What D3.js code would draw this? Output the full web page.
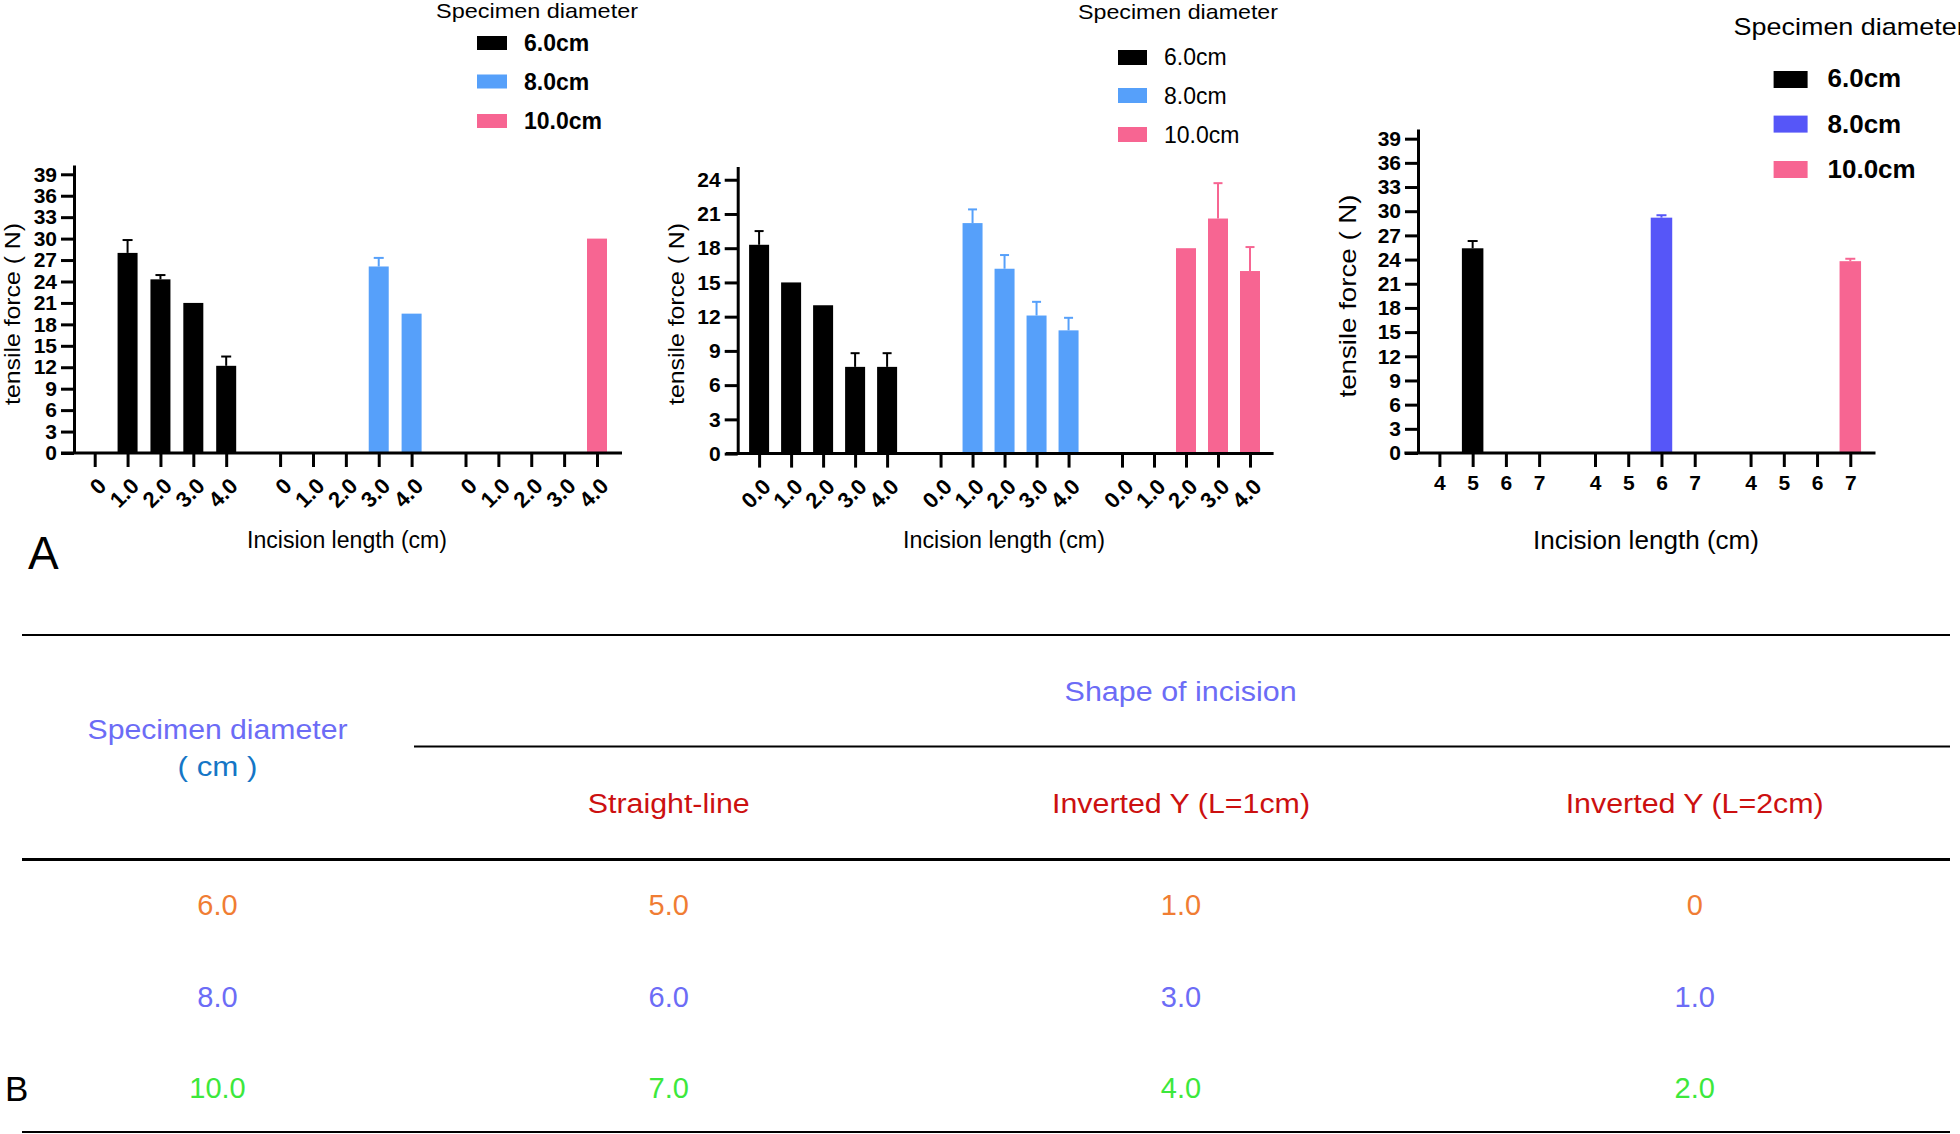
<!DOCTYPE html>
<html>
<head>
<meta charset="utf-8">
<script src="https://cdn.jsdelivr.net/npm/d3@7"></script>
<style>
  html, body { margin: 0; padding: 0; background: #fff; }
  svg { display: block; }
  text { font-family: "Liberation Sans", Arial, "Noto Sans CJK SC", sans-serif; }
</style>
</head>
<body>
<svg id="chart" width="1960" height="1134"></svg>
<script>
// ---------------- DATA ----------------
const seriesNames = ["6.0cm", "8.0cm", "10.0cm"];
const legendTitle = "Specimen diameter";
const yTitle = "tensile force ( N)";
const xTitle = "Incision length (cm)";

// Panel 1 (straight-line)
const p1Categories = ["0", "1.0", "2.0", "3.0", "4.0"];
const p1Mean6 = [0, 28.0, 24.3, 21.0, 12.2];
const p1Err6 = [0, 1.8, 0.6, 0, 1.3];
const p1Mean8 = [0, 0, 0, 26.1, 19.5];
const p1Err8 = [0, 0, 0, 1.2, 0];
const p1Mean10 = [0, 0, 0, 0, 30.0];
const p1Err10 = [0, 0, 0, 0, 0];
const p1YTicks = [0, 3, 6, 9, 12, 15, 18, 21, 24, 27, 30, 33, 36, 39];

// Panel 2 (inverted Y)
const p2Categories = ["0.0", "1.0", "2.0", "3.0", "4.0"];
const p2Mean6 = [18.3, 15.0, 13.0, 7.6, 7.6];
const p2Err6 = [1.2, 0, 0, 1.2, 1.2];
const p2Mean8 = [0, 20.2, 16.2, 12.1, 10.8];
const p2Err8 = [0, 1.2, 1.2, 1.2, 1.1];
const p2Mean10 = [0, 0, 18.0, 20.6, 16.0];
const p2Err10 = [0, 0, 0, 3.1, 2.1];
const p2YTicks = [0, 3, 6, 9, 12, 15, 18, 21, 24];

// Panel 3
const p3Categories = ["4", "5", "6", "7"];
const p3Mean6 = [0, 25.4, 0, 0];
const p3Err6 = [0, 0.9, 0, 0];
const p3Mean8 = [0, 0, 29.2, 0];
const p3Err8 = [0, 0, 0.3, 0];
const p3Mean10 = [0, 0, 0, 23.8];
const p3Err10 = [0, 0, 0, 0.3];
const p3YTicks = [0, 3, 6, 9, 12, 15, 18, 21, 24, 27, 30, 33, 36, 39];

// Table (B)
const tableRowHeader = "Specimen diameter";
const tableRowUnit = "( cm )";
const tableGroupHeader = "Shape of incision";
const tableColumns = ["Straight-line", "Inverted Y (L=1cm)", "Inverted Y (L=2cm)"];
const tableDiameters = ["6.0", "8.0", "10.0"];
const tableStraight = ["5.0", "6.0", "7.0"];
const tableInvY1 = ["1.0", "3.0", "4.0"];
const tableInvY2 = ["0", "1.0", "2.0"];

// ---------------- STYLE ----------------
const colBlack = "#000000";
const colBlue = "#56A0FA";
const colIndigo = "#5656F8";
const colPink = "#F76592";
const tblLavender = "#6C6CF6";
const tblUnit = "#1576C6";
const tblRed = "#CC1010";
const tblRowColors = ["#F07D33", "#6C6CF6", "#3CE83C"];

const svg = d3.select("#chart");

function drawPanel(cfg) {
  const g = svg.append("g");
  const y = d3.scaleLinear().domain([0, cfg.yMax]).range([cfg.zeroY, cfg.topY]);
  const nGroups = cfg.series.length;
  const x = d3.scaleLinear()
    .domain([0, (nGroups - 1) * (cfg.n + cfg.gap) + cfg.n - 1])
    .range([cfg.firstTick, cfg.lastTick]);

  // bars
  const bars = [];
  cfg.series.forEach((s, gi) => {
    s.mean.forEach((m, i) => {
      bars.push({ pos: gi * (cfg.n + cfg.gap) + i, mean: m, err: s.err[i], color: s.color, label: cfg.categories[i] });
    });
  });
  const tickPositions = bars.map(b => b.pos);
  const tickLabels = bars.map(b => b.label);

  g.selectAll("rect.bar").data(bars.filter(b => b.mean > 0)).join("rect")
    .attr("class", "bar")
    .attr("x", d => x(d.pos) - cfg.barW / 2)
    .attr("y", d => y(d.mean))
    .attr("width", cfg.barW)
    .attr("height", d => y(0) - y(d.mean))
    .attr("fill", d => d.color);

  // error bars (upper only)
  const eb = bars.filter(b => b.mean > 0 && b.err > 0);
  g.selectAll("line.errv").data(eb).join("line")
    .attr("x1", d => x(d.pos)).attr("x2", d => x(d.pos))
    .attr("y1", d => y(d.mean)).attr("y2", d => y(d.mean + d.err))
    .attr("stroke", d => d.color).attr("stroke-width", 2);
  g.selectAll("line.errc").data(eb).join("line")
    .attr("x1", d => x(d.pos) - cfg.capW / 2).attr("x2", d => x(d.pos) + cfg.capW / 2)
    .attr("y1", d => y(d.mean + d.err)).attr("y2", d => y(d.mean + d.err))
    .attr("stroke", d => d.color).attr("stroke-width", 2);

  // y axis
  const yAxis = d3.axisLeft(y).tickValues(cfg.yTicks).tickSize(13).tickSizeOuter(0).tickPadding(4);
  const ya = g.append("g").attr("transform", `translate(${cfg.axisX},0)`).call(yAxis);
  ya.select(".domain").attr("stroke", "#000").attr("stroke-width", 3);
  ya.selectAll(".tick line").attr("stroke", "#000").attr("stroke-width", 3);
  ya.selectAll(".tick text").attr("fill", "#000")
    .style("font-size", cfg.yTickSize + "px").style("font-weight", "bold")
    .style("font-family", '"Liberation Sans", Arial, sans-serif');

  // x axis
  const xAxis = d3.axisBottom(x).tickValues(tickPositions).tickSize(14).tickSizeOuter(0)
    .tickFormat((d, i) => tickLabels[i]);
  const xa = g.append("g").attr("transform", `translate(0,${cfg.zeroY})`).call(xAxis);
  xa.select(".domain").remove();
  xa.selectAll(".tick line").attr("stroke", "#000").attr("stroke-width", 3);
  const xt = xa.selectAll(".tick text").attr("fill", "#000")
    .style("font-size", cfg.xTickSize + "px").style("font-weight", "bold")
    .style("font-family", '"Liberation Sans", Arial, sans-serif');
  if (cfg.rotate) {
    xt.attr("text-anchor", "end").attr("dy", "0.35em")
      .attr("transform", "translate(7,29) rotate(-45)").attr("y", 0).attr("x", 0);
  } else {
    xt.attr("y", 22).attr("dy", "0.71em");
  }
  g.append("line")
    .attr("x1", cfg.xLine[0]).attr("x2", cfg.xLine[1])
    .attr("y1", cfg.zeroY).attr("y2", cfg.zeroY)
    .attr("stroke", "#000").attr("stroke-width", 3);

  // axis titles
  g.append("text")
    .attr("transform", `translate(${cfg.yTitle.x},${cfg.yTitle.y}) rotate(-90)`)
    .attr("text-anchor", "middle").attr("dy", "0.35em")
    .attr("textLength", cfg.yTitle.len).attr("lengthAdjust", "spacingAndGlyphs")
    .style("font-size", cfg.yTitle.size + "px")
    .text(yTitle);
  g.append("text")
    .attr("x", cfg.xTitle.x).attr("y", cfg.xTitle.y)
    .attr("text-anchor", "middle")
    .attr("textLength", cfg.xTitle.len).attr("lengthAdjust", "spacingAndGlyphs")
    .style("font-size", cfg.xTitle.size + "px")
    .text(xTitle);

  // legend
  const L = cfg.legend;
  g.append("text").attr("x", L.titleX).attr("y", L.titleY)
    .attr("textLength", L.titleLen).attr("lengthAdjust", "spacingAndGlyphs")
    .style("font-size", L.titleSize + "px").text(legendTitle);
  const items = g.selectAll("g.leg").data(cfg.series).join("g").attr("class", "leg");
  items.append("rect")
    .attr("x", L.swX).attr("y", (d, i) => L.swY[i])
    .attr("width", L.swW).attr("height", L.swH)
    .attr("fill", d => d.color);
  items.append("text")
    .attr("x", L.labX).attr("y", (d, i) => L.labY[i])
    .style("font-size", L.labSize + "px")
    .style("font-weight", L.bold ? "bold" : "normal")
    .text((d, i) => seriesNames[i]);
}

drawPanel({
  axisX: 74, zeroY: 453, topY: 165, yMax: 40.3, yTicks: p1YTicks,
  firstTick: 94.7, lastTick: 597, n: 5, gap: 0.64, xLine: [61, 622],
  barW: 20, capW: 10, rotate: true, yTickSize: 21, xTickSize: 22,
  categories: p1Categories,
  series: [
    { mean: p1Mean6, err: p1Err6, color: colBlack },
    { mean: p1Mean8, err: p1Err8, color: colBlue },
    { mean: p1Mean10, err: p1Err10, color: colPink }
  ],
  yTitle: { x: 12.5, y: 314, len: 182, size: 22 },
  xTitle: { x: 347, y: 548, len: 200, size: 23 },
  legend: { titleX: 436, titleY: 18, titleLen: 202, titleSize: 21,
    swX: 477, swW: 30, swH: 14, swY: [36, 74.5, 114],
    labX: 524, labY: [51, 90, 129], labSize: 23, bold: true }
});

drawPanel({
  axisX: 737.7, zeroY: 453.6, topY: 166.5, yMax: 25.16, yTicks: p2YTicks,
  firstTick: 759.1, lastTick: 1250, n: 5, gap: 0.67, xLine: [726, 1273.6],
  barW: 20, capW: 9, rotate: true, yTickSize: 21, xTickSize: 22,
  categories: p2Categories,
  series: [
    { mean: p2Mean6, err: p2Err6, color: colBlack },
    { mean: p2Mean8, err: p2Err8, color: colBlue },
    { mean: p2Mean10, err: p2Err10, color: colPink }
  ],
  yTitle: { x: 676, y: 314, len: 182, size: 22 },
  xTitle: { x: 1004, y: 548, len: 202, size: 23 },
  legend: { titleX: 1078, titleY: 19, titleLen: 200, titleSize: 21,
    swX: 1118, swW: 29, swH: 15, swY: [50, 88, 127],
    labX: 1164, labY: [65.4, 103.6, 142.5], labSize: 23, bold: false }
});

drawPanel({
  axisX: 1418, zeroY: 453, topY: 129, yMax: 40.2, yTicks: p3YTicks,
  firstTick: 1439.4, lastTick: 1850.3, n: 4, gap: 0.68, xLine: [1404.4, 1875.5],
  barW: 21.5, capW: 10, rotate: false, yTickSize: 21, xTickSize: 21,
  categories: p3Categories,
  series: [
    { mean: p3Mean6, err: p3Err6, color: colBlack },
    { mean: p3Mean8, err: p3Err8, color: colIndigo },
    { mean: p3Mean10, err: p3Err10, color: colPink }
  ],
  yTitle: { x: 1347.5, y: 296, len: 203, size: 24 },
  xTitle: { x: 1646, y: 549, len: 226, size: 26 },
  legend: { titleX: 1733.6, titleY: 34.5, titleLen: 232, titleSize: 24,
    swX: 1773.6, swW: 34, swH: 17, swY: [71, 115.6, 161],
    labX: 1827.5, labY: [87.2, 132.7, 178], labSize: 26, bold: true }
});

// panel letter A
svg.append("text").attr("x", 28).attr("y", 569).style("font-size", "46px").text("A");

// ---------------- TABLE (B) ----------------
const tbl = svg.append("g");
const colX = [217.5, 668.75, 1181, 1694.7];
const rowY = d3.scalePoint().domain(tableDiameters).range([915, 1098]);
const hl = [
  { x1: 22, x2: 1950, y: 635, w: 2.2 },
  { x1: 414, x2: 1950, y: 746.5, w: 2.2 },
  { x1: 22, x2: 1950, y: 859.5, w: 3.2 },
  { x1: 22, x2: 1950, y: 1132, w: 2.2 }
];
tbl.selectAll("line").data(hl).join("line")
  .attr("x1", d => d.x1).attr("x2", d => d.x2)
  .attr("y1", d => d.y).attr("y2", d => d.y)
  .attr("stroke", "#000").attr("stroke-width", d => d.w);

tbl.append("text").attr("x", colX[0]).attr("y", 739).attr("text-anchor", "middle")
  .attr("textLength", 260).attr("lengthAdjust", "spacingAndGlyphs")
  .style("font-size", "27px").attr("fill", tblLavender).text(tableRowHeader);
tbl.append("text").attr("x", colX[0]).attr("y", 776).attr("text-anchor", "middle")
  .attr("textLength", 80).attr("lengthAdjust", "spacingAndGlyphs")
  .style("font-size", "27px").attr("fill", tblUnit).text(tableRowUnit);
tbl.append("text").attr("x", 1180.6).attr("y", 700.5).attr("text-anchor", "middle")
  .attr("textLength", 232).attr("lengthAdjust", "spacingAndGlyphs")
  .style("font-size", "27px").attr("fill", tblLavender).text(tableGroupHeader);
const colLens = [162, 258, 258];
tbl.selectAll("text.colh").data(tableColumns).join("text").attr("class", "colh")
  .attr("x", (d, i) => colX[i + 1]).attr("y", 812.9).attr("text-anchor", "middle")
  .attr("textLength", (d, i) => colLens[i]).attr("lengthAdjust", "spacingAndGlyphs")
  .style("font-size", "27px").attr("fill", tblRed).text(d => d);

const tableCols = [tableDiameters, tableStraight, tableInvY1, tableInvY2];
tableCols.forEach((col, ci) => {
  tbl.selectAll(null).data(col).join("text")
    .attr("x", colX[ci])
    .attr("y", (d, ri) => rowY(tableDiameters[ri]))
    .attr("text-anchor", "middle")
    .style("font-size", "29px")
    .attr("fill", (d, ri) => tblRowColors[ri])
    .text(d => d);
});

svg.append("text").attr("x", 5).attr("y", 1101).style("font-size", "35px").text("B");
</script>
</body>
</html>
